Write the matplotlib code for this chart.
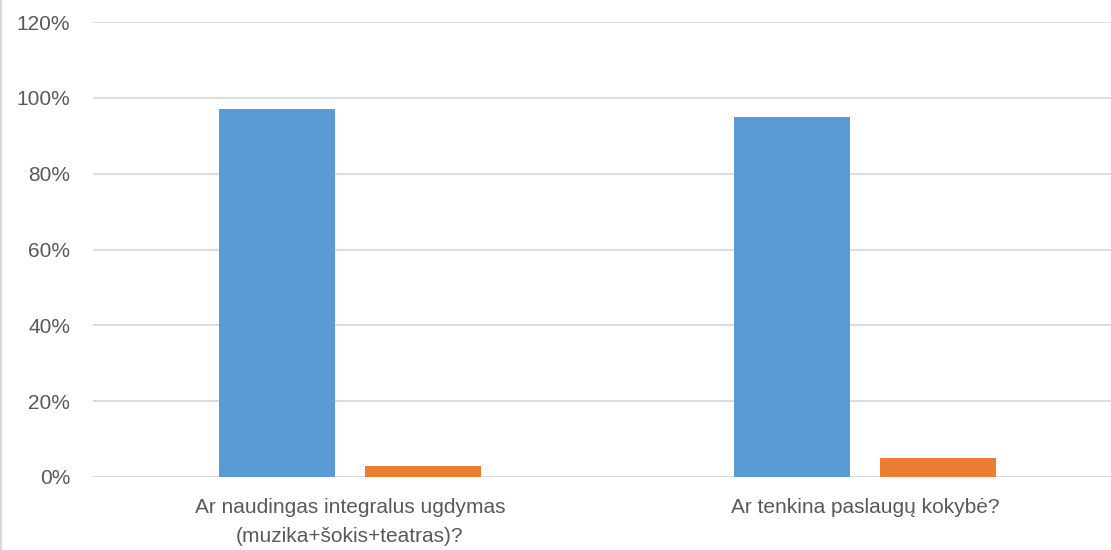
import matplotlib
matplotlib.use("Agg")
import matplotlib.pyplot as plt
import numpy as np

# Data
categories = ["Ar naudingas integralus ugdymas\n(muzika+šokis+teatras)?",
              "Ar tenkina paslaugų kokybė?"]
yes_vals = [0.97, 0.95]
no_vals = [0.03, 0.05]
yticks = [0, 0.2, 0.4, 0.6, 0.8, 1.0, 1.2]

plt.rcParams["font.family"] = ["Liberation Sans", "DejaVu Sans"]

fig = plt.figure(figsize=(11.11, 5.5), dpi=100)
ax = fig.add_axes([92.5 / 1111, 1 - 477 / 550, 1030 / 1111, (477 - 22) / 550])

x = np.arange(len(categories))
w = 0.225
ax.bar(x - 0.142, yes_vals, w, color="#5B9BD5", zorder=3)
ax.bar(x + 0.142, no_vals, w, color="#ED7D31", zorder=3)

ax.set_xlim(-0.5, 1.5)
ax.set_ylim(0, 1.2)
ax.set_yticks(yticks)
ax.set_yticklabels([f"{int(round(t * 100))}%" for t in yticks])
ax.set_xticks(x)
ax.set_xticklabels(categories, linespacing=1.65)
ax.grid(axis="y", color="#D9D9D9", linewidth=1.3, zorder=0)
for s in ax.spines.values():
    s.set_visible(False)
ax.tick_params(axis="both", length=0, labelcolor="#595959", labelsize=15)
ax.tick_params(axis="y", pad=16)
ax.tick_params(axis="x", pad=15)

# left border of chart area
fig.add_artist(plt.Line2D([0.001, 0.001], [0, 1], color="#D9D9D9", linewidth=1.5,
                          transform=fig.transFigure))

fig.savefig("out.png", dpi=100)
